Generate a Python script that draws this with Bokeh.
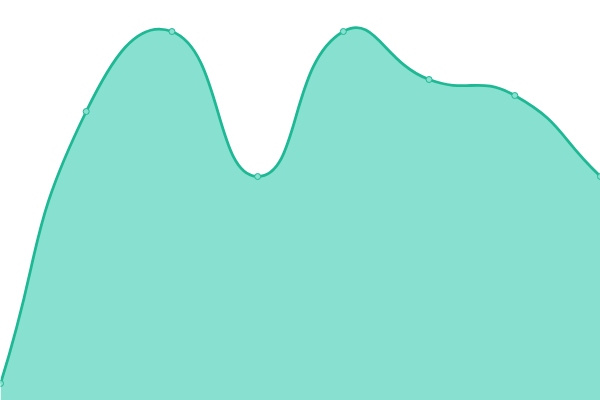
import numpy as np

from bokeh.plotting import figure
from bokeh.models import Range1d
from bokeh.embed import file_html
from bokeh.resources import INLINE

# values (y axis starts at 0, top near 400)
days = [0, 1, 2, 3, 4, 5, 6, 7]
visits = [17, 289, 369, 224, 369, 321, 305, 224]

LINE = "#1fb894"
FILL = "#88e0d0"
SMOOTH = 0.5

W, H = 600, 400


def smooth_controls(xs, ys, sx, sy):
    # echarts style control points, worked out in screen space;
    # the end points use themselves as their missing neighbour
    px = np.asarray(xs, float) * sx
    py = np.asarray(ys, float) * sy
    n = len(px)
    cp_out = []  # control leaving point i
    cp_in = []   # control entering point i
    for i in range(n):
        x, y = px[i], py[i]
        pi, ni = max(i - 1, 0), min(i + 1, n - 1)
        vx = px[ni] - px[pi]
        vy = py[ni] - py[pi]
        lp = np.hypot(x - px[pi], y - py[pi])
        ln = np.hypot(px[ni] - x, py[ni] - y)
        r = ln / (ln + lp)
        cp_in.append((x - vx * SMOOTH * (1 - r), y - vy * SMOOTH * (1 - r)))
        cp_out.append((x + vx * SMOOTH * r, y + vy * SMOOTH * r))
    segs = []
    for i in range(n - 1):
        segs.append(((px[i], py[i]), cp_out[i], cp_in[i + 1], (px[i + 1], py[i + 1])))
    return [[(a / sx, b / sy) for a, b in s] for s in segs]


x_lo, x_hi = 0, 7
y_lo, y_hi = 0, 400
sx = W / (x_hi - x_lo)
sy = H / (y_hi - y_lo)
segs = smooth_controls(days, visits, sx, sy)

# sample the curves for the filled area
t = np.linspace(0, 1, 40)
cx, cy = [], []
for p0, c0, c1, p1 in segs:
    bx = ((1 - t) ** 3) * p0[0] + 3 * ((1 - t) ** 2) * t * c0[0] + 3 * (1 - t) * t * t * c1[0] + t ** 3 * p1[0]
    by = ((1 - t) ** 3) * p0[1] + 3 * ((1 - t) ** 2) * t * c0[1] + 3 * (1 - t) * t * t * c1[1] + t ** 3 * p1[1]
    cx.extend(bx)
    cy.extend(by)

p = figure(width=W, height=H, output_backend="svg", toolbar_location=None,
           x_range=Range1d(x_lo, x_hi), y_range=Range1d(y_lo, y_hi),
           min_border=0, outline_line_color=None)
p.axis.visible = False
p.grid.visible = False
p.background_fill_color = "white"
p.border_fill_color = "white"

p.patch(cx + [x_hi, x_lo], cy + [y_lo, y_lo], fill_color=FILL, line_color=None)

p.bezier(x0=[s[0][0] for s in segs], y0=[s[0][1] for s in segs],
         x1=[s[3][0] for s in segs], y1=[s[3][1] for s in segs],
         cx0=[s[1][0] for s in segs], cy0=[s[1][1] for s in segs],
         cx1=[s[2][0] for s in segs], cy1=[s[2][1] for s in segs],
         line_color=LINE, line_width=2.8)

p.scatter(days, visits, size=6, fill_color=FILL, line_color=LINE, line_width=1)

open("out.html", "w").write(file_html(p, INLINE))
